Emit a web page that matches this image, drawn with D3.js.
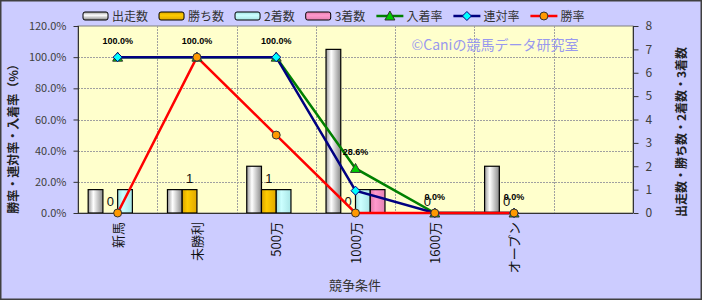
<!DOCTYPE html>
<html lang="ja">
<head>
    <meta charset="UTF-8">
    <title>競争条件別成績</title>
    <script src="https://d3js.org/d3.v7.min.js"></script>
    <style>
        body { margin: 0; background: #fff; }
        text { font-family: "Noto Sans CJK JP", "Noto Sans", sans-serif; }
        .num { font-family: "Liberation Sans", Arial, sans-serif; }
    </style>
</head>
<body>
<svg id="chart" width="703" height="301"></svg>
<script>
    // データ
    var categories = ["新馬", "未勝利", "500万", "1000万", "1600万", "オープン", ""];
    var starts = [1, 1, 2, 7, 0, 2];      // 出走数
    var wins = [0, 1, 1, 0, 0, 0];        // 勝ち数
    var seconds = [1, 0, 1, 1, 0, 0];     // 2着数
    var thirds = [0, 0, 0, 1, 0, 0];      // 3着数
    var placeRate = [100, 100, 100, 28.6, 0, 0];   // 入着率
    var rentaiRate = [100, 100, 100, 14.3, 0, 0];  // 連対率
    var winRate = [0, 100, 50, 0, 0, 0];           // 勝率
    var leftTicks = [0, 20, 40, 60, 80, 100, 120];
    var rightTicks = [0, 1, 2, 3, 4, 5, 6, 7, 8];

    var barSeries = [
        {name: "出走数", values: starts, c0: "#9a9a9a", c1: "#ffffff", c2: "#8a8a8a"},
        {name: "勝ち数", values: wins, c0: "#d9a300", c1: "#ffcc00", c2: "#e0a800"},
        {name: "2着数", values: seconds, c0: "#9ee0e0", c1: "#ccffff", c2: "#a8e6e6"},
        {name: "3着数", values: thirds, c0: "#e07aa8", c1: "#ff99cc", c2: "#e583b3"}
    ];
    var lineSeries = [
        {name: "入着率", values: placeRate, color: "#008000", marker: "triangle", fill: "#00cc00"},
        {name: "連対率", values: rentaiRate, color: "#000080", marker: "diamond", fill: "#00ffff"},
        {name: "勝率", values: winRate, color: "#ff0000", marker: "circle", fill: "#ff9900"}
    ];

    var plot = {left: 78, right: 633, top: 26, bottom: 213};
    var svg = d3.select('#chart');

    // 背景
    svg.append('rect').attr('x', 0.75).attr('y', 0.75).attr('width', 700.5).attr('height', 298.5)
        .attr('fill', '#ccccff').attr('stroke', '#404040').attr('stroke-width', 1.5);

    var defs = svg.append('defs');
    barSeries.forEach(function (s, i) {
        var g = defs.append('linearGradient').attr('id', 'g' + i).attr('x1', 0).attr('x2', 1).attr('y1', 0).attr('y2', 0);
        g.append('stop').attr('offset', 0).attr('stop-color', s.c0);
        g.append('stop').attr('offset', 0.35).attr('stop-color', s.c1);
        g.append('stop').attr('offset', 1).attr('stop-color', s.c2);
        var gv = defs.append('linearGradient').attr('id', 'gv' + i).attr('x1', 0).attr('x2', 0).attr('y1', 0).attr('y2', 1);
        gv.append('stop').attr('offset', 0).attr('stop-color', s.c0);
        gv.append('stop').attr('offset', 0.4).attr('stop-color', s.c1);
        gv.append('stop').attr('offset', 1).attr('stop-color', s.c2);
    });

    var x = d3.scaleBand().domain(d3.range(categories.length)).range([plot.left, plot.right]);
    var xSub = d3.scaleBand().domain(d3.range(barSeries.length)).range([0, x.bandwidth()]).paddingOuter(0.69);
    var yL = d3.scaleLinear().domain([0, 120]).range([plot.bottom, plot.top]);
    var yR = d3.scaleLinear().domain([0, 8]).range([plot.bottom, plot.top]);

    // プロットエリア
    svg.append('rect').attr('x', plot.left).attr('y', plot.top)
        .attr('width', plot.right - plot.left).attr('height', plot.bottom - plot.top)
        .attr('fill', '#ffffcc').attr('stroke', '#808080');

    // グリッド
    svg.append('g').selectAll('line').data(leftTicks.slice(1, -1)).enter().append('line')
        .attr('x1', plot.left).attr('x2', plot.right)
        .attr('y1', d => Math.round(yL(d)) + 0.5).attr('y2', d => Math.round(yL(d)) + 0.5)
        .attr('stroke', '#a0a0a0').attr('stroke-dasharray', '2,1');
    svg.append('g').selectAll('line').data(d3.range(1, categories.length)).enter().append('line')
        .attr('x1', d => Math.round(x(d)) + 0.5).attr('x2', d => Math.round(x(d)) + 0.5)
        .attr('y1', plot.top).attr('y2', plot.bottom)
        .attr('stroke', '#a0a0a0').attr('stroke-dasharray', '2,1');

    // 透かし
    svg.append('text').attr('x', 495).attr('y', 50).attr('text-anchor', 'middle')
        .attr('font-size', 14).attr('fill', '#9999ee').text('©Caniの競馬データ研究室');

    // 棒グラフ
    barSeries.forEach(function (s, si) {
        svg.append('g').selectAll('rect').data(s.values).enter().append('rect')
            .attr('x', (d, i) => x(i) + xSub(si))
            .attr('y', d => yR(d))
            .attr('width', xSub.bandwidth())
            .attr('height', d => plot.bottom - yR(d))
            .attr('fill', 'url(#g' + si + ')')
            .attr('stroke', '#000').attr('stroke-width', 1.2)
            .style('display', d => d > 0 ? null : 'none');
    });

    // 勝ち数ラベル
    svg.append('g').selectAll('text').data(wins).enter().append('text')
        .attr('class', 'num')
        .attr('x', (d, i) => x(i) + xSub(1) + xSub.bandwidth() / 2)
        .attr('y', d => yR(d) - 7)
        .attr('text-anchor', 'middle').attr('font-size', 13).attr('fill', '#111')
        .text(d => d);

    // 軸
    svg.append('line').attr('x1', plot.left + 0.5).attr('x2', plot.left + 0.5)
        .attr('y1', plot.top).attr('y2', plot.bottom).attr('stroke', '#333');
    svg.append('line').attr('x1', plot.right + 0.5).attr('x2', plot.right + 0.5)
        .attr('y1', plot.top).attr('y2', plot.bottom).attr('stroke', '#333');
    svg.append('line').attr('x1', plot.left).attr('x2', plot.right)
        .attr('y1', plot.bottom + 0.5).attr('y2', plot.bottom + 0.5).attr('stroke', '#333');

    var leftAxis = svg.append('g').attr('transform', 'translate(' + (plot.left + 0.5) + ',0)')
        .call(d3.axisLeft(yL).tickValues(leftTicks).tickSize(5).tickPadding(7)
            .tickFormat(d => d.toFixed(1) + '%'));
    leftAxis.select('.domain').remove();
    leftAxis.selectAll('line').attr('stroke', '#333');
    leftAxis.selectAll('text').attr('font-family', '"Liberation Sans", Arial, sans-serif')
        .attr('font-size', 11).attr('fill', '#404040');

    var rightAxis = svg.append('g').attr('transform', 'translate(' + (plot.right + 0.5) + ',0)')
        .call(d3.axisRight(yR).tickValues(rightTicks).tickSize(5).tickPadding(7));
    rightAxis.select('.domain').remove();
    rightAxis.selectAll('line').attr('stroke', '#333');
    rightAxis.selectAll('text').attr('font-family', '"Liberation Sans", Arial, sans-serif')
        .attr('font-size', 12).attr('fill', '#404040');

    // カテゴリラベル
    svg.append('g').selectAll('text').data(categories).enter().append('text')
        .attr('transform', (d, i) => 'translate(' + (x(i) + x.bandwidth() / 2 + 5) + ',222) rotate(-90)')
        .attr('text-anchor', 'end').attr('font-size', 13).attr('fill', '#111')
        .text(d => d);

    // 軸タイトル
    svg.append('text').attr('transform', 'translate(18,136) rotate(-90)')
        .attr('text-anchor', 'middle').attr('font-size', 12).attr('font-weight', 'bold').attr('fill', '#222')
        .text('勝率・連対率・入着率（%）');
    svg.append('text').attr('transform', 'translate(686,132) rotate(-90)')
        .attr('text-anchor', 'middle').attr('font-size', 12).attr('font-weight', 'bold').attr('fill', '#222')
        .text('出走数・勝ち数・2着数・3着数');
    svg.append('text').attr('x', 355).attr('y', 290).attr('text-anchor', 'middle')
        .attr('font-size', 13).attr('fill', '#333').text('競争条件');

    // マーカー
    function markerPath(type) {
        if (type === 'triangle') return 'M0,-5 L5,4 L-5,4 Z';
        if (type === 'diamond') return 'M0,-4.5 L4.5,0 L0,4.5 L-4.5,0 Z';
        return d3.symbol().type(d3.symbolCircle).size(50)();
    }

    var line = d3.line().x((d, i) => x(i) + x.bandwidth() / 2).y(d => yL(d));
    lineSeries.forEach(function (s) {
        svg.append('path').datum(s.values).attr('d', line)
            .attr('fill', 'none').attr('stroke', s.color).attr('stroke-width', 2.5);
    });
    lineSeries.forEach(function (s) {
        svg.append('g').selectAll('path').data(s.values).enter().append('path')
            .attr('transform', (d, i) => 'translate(' + (x(i) + x.bandwidth() / 2) + ',' + yL(d) + ')')
            .attr('d', markerPath(s.marker))
            .attr('fill', s.fill).attr('stroke', s.marker === 'diamond' ? '#000080' : '#333')
            .attr('stroke-width', 1);
    });

    // 入着率ラベル
    svg.append('g').selectAll('text').data(placeRate).enter().append('text')
        .attr('class', 'num')
        .attr('x', (d, i) => x(i) + x.bandwidth() / 2)
        .attr('y', d => yL(d) - 13)
        .attr('text-anchor', 'middle').attr('font-size', 9).attr('font-weight', 'bold').attr('fill', '#000')
        .text(d => d.toFixed(1) + '%');

    // 凡例
    var legend = svg.append('g');
    var lx = 83, ly = 16;
    barSeries.forEach(function (s, si) {
        legend.append('rect').attr('x', lx).attr('y', ly - 4).attr('width', 25).attr('height', 8)
            .attr('rx', 2).attr('fill', 'url(#gv' + si + ')').attr('stroke', '#000');
        var t = legend.append('text').attr('x', lx + 29).attr('y', ly + 5)
            .attr('font-size', 12).attr('fill', '#333').text(s.name);
        lx += 29 + t.node().getComputedTextLength() + 11;
    });
    lineSeries.forEach(function (s) {
        legend.append('line').attr('x1', lx).attr('x2', lx + 27).attr('y1', ly).attr('y2', ly)
            .attr('stroke', s.color).attr('stroke-width', 2.5);
        legend.append('path').attr('transform', 'translate(' + (lx + 13.5) + ',' + ly + ')')
            .attr('d', markerPath(s.marker))
            .attr('fill', s.fill).attr('stroke', s.marker === 'diamond' ? '#000080' : '#333');
        var t = legend.append('text').attr('x', lx + 30).attr('y', ly + 5)
            .attr('font-size', 12).attr('fill', '#333').text(s.name);
        lx += 30 + t.node().getComputedTextLength() + 11;
    });
</script>
</body>
</html>
